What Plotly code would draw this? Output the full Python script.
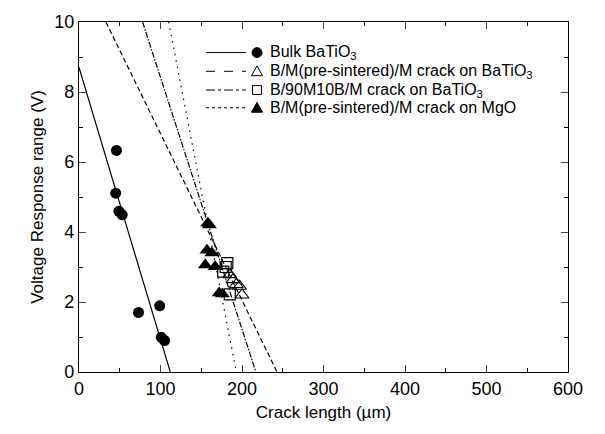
import plotly.graph_objects as go

# ---- data ----
bulk_x = [46, 45, 49, 53, 73, 99, 101, 105]
bulk_y = [6.33, 5.11, 4.59, 4.49, 1.70, 1.89, 0.99, 0.90]

bm_bt_x = [185, 189, 193, 197, 200]
bm_bt_y = [2.78, 2.64, 2.50, 2.45, 2.20]

b90_x = [177, 182, 180, 185]
b90_y = [2.87, 3.11, 3.00, 2.22]

bm_mgo_x = [158, 160, 157, 163, 155, 167, 172, 176]
bm_mgo_y = [4.25, 4.20, 3.48, 3.40, 3.06, 3.01, 2.26, 2.23]

# fitted lines (end points)
fit_bulk_x = [0, 112]
fit_bulk_y = [8.7, 0]
fit_bmbt_x = [33, 243]
fit_bmbt_y = [10, 0]
fit_b90_x = [78, 217]
fit_b90_y = [10, 0]
fit_mgo_x = [110, 193]
fit_mgo_y = [10, 0]

legend_labels = [
    "Bulk BaTiO<sub>3</sub>",
    "B/M(pre-sintered)/M crack on BaTiO<sub>3</sub>",
    "B/90M10B/M crack on BaTiO<sub>3</sub>",
    "B/M(pre-sintered)/M crack on MgO",
]

FONT = "Liberation Sans, Arial, sans-serif"
W, H = 605, 434
ML, MR, MT, MB = 79, 37, 17, 62
PW, PH = W - ML - MR, H - MT - MB

fig = go.Figure()
lw = 1.2
fig.add_trace(go.Scatter(x=fit_bulk_x, y=fit_bulk_y, mode="lines",
                         line=dict(color="black", width=lw), showlegend=False))
fig.add_trace(go.Scatter(x=fit_bmbt_x, y=fit_bmbt_y, mode="lines",
                         line=dict(color="black", width=lw, dash="5px,3px"), showlegend=False))
fig.add_trace(go.Scatter(x=fit_b90_x, y=fit_b90_y, mode="lines",
                         line=dict(color="black", width=lw, dash="6px,1.5px,1.5px,1.5px"), showlegend=False))
fig.add_trace(go.Scatter(x=fit_mgo_x, y=fit_mgo_y, mode="lines",
                         line=dict(color="black", width=lw, dash="1.5px,5px"), showlegend=False))

fig.add_trace(go.Scatter(x=bulk_x, y=bulk_y, mode="markers",
                         marker=dict(symbol="circle", size=11, color="black"), showlegend=False))
fig.add_trace(go.Scatter(x=bm_bt_x, y=bm_bt_y, mode="markers",
                         marker=dict(symbol="triangle-up-open", size=12, color="black",
                                     line=dict(width=1.2)), showlegend=False))
fig.add_trace(go.Scatter(x=b90_x, y=b90_y, mode="markers",
                         marker=dict(symbol="square-open", size=11, color="black",
                                     line=dict(width=1.2)), showlegend=False))
fig.add_trace(go.Scatter(x=bm_mgo_x, y=bm_mgo_y, mode="markers",
                         marker=dict(symbol="triangle-up", size=13, color="black"), showlegend=False))

# ---- manual legend (pixel -> paper) ----
def px(x):
    return (x - ML) / PW

def py(y):
    return 1 - (y - MT) / PH

rows = [48, 67, 86, 104]
dashes = [None, "dash", "dashdot", "dot"]
shapes = []
annos = []
line_x0, line_x1, mk_x, txt_x = 206, 246, 257, 268
for r, lab, d in zip(rows, legend_labels, dashes):
    ln = dict(color="black", width=1)
    if d:
        ln["dash"] = d
    shapes.append(dict(type="line", xref="paper", yref="paper",
                       x0=px(line_x0), x1=px(line_x1), y0=py(r), y1=py(r), line=ln))
    annos.append(dict(x=px(txt_x), y=py(r), xref="paper", yref="paper", text=lab,
                      showarrow=False, xanchor="left", yanchor="middle",
                      font=dict(family=FONT, size=16, color="black")))

# legend markers
s = 5
shapes.append(dict(type="circle", xref="paper", yref="paper",
                   x0=px(mk_x - s), x1=px(mk_x + s), y0=py(rows[0] + s), y1=py(rows[0] - s),
                   fillcolor="black", line=dict(color="black", width=1)))

def tri(cx, cy, filled):
    path = "M {} {} L {} {} L {} {} Z".format(px(cx - 5.5), py(cy + 4.5), px(cx + 5.5), py(cy + 4.5),
                                            px(cx), py(cy - 5.5))
    return dict(type="path", xref="paper", yref="paper", path=path,
                fillcolor="black" if filled else "white", line=dict(color="black", width=1))

shapes.append(tri(mk_x, rows[1], False))
shapes.append(dict(type="rect", xref="paper", yref="paper",
                   x0=px(mk_x - 4.5), x1=px(mk_x + 4.5), y0=py(rows[2] + 4.5), y1=py(rows[2] - 4.5),
                   fillcolor="white", line=dict(color="black", width=1)))
shapes.append(tri(mk_x, rows[3], True))

fig.update_layout(
    width=W, height=H,
    margin=dict(l=ML, r=MR, t=MT, b=MB),
    plot_bgcolor="white", paper_bgcolor="white",
    font=dict(family=FONT, color="black"),
    shapes=shapes, annotations=annos,
    showlegend=False,
)
fig.update_xaxes(range=[0, 600], dtick=100, ticks="inside", ticklen=7, tickwidth=1,
                 showline=True, linecolor="black", linewidth=1.2, mirror="ticks",
                 showgrid=False, zeroline=False,
                 minor=dict(dtick=50, ticks="inside", ticklen=4, tickcolor="black"),
                 tickfont=dict(size=18), title=dict(text="Crack length (µm)", font=dict(size=17), standoff=8))
fig.update_yaxes(range=[0, 10], dtick=2, ticks="inside", ticklen=7, tickwidth=1,
                 showline=True, linecolor="black", linewidth=1.2, mirror="ticks",
                 showgrid=False, zeroline=False,
                 minor=dict(dtick=1, ticks="inside", ticklen=4, tickcolor="black"),
                 tickfont=dict(size=18), title=dict(text="Voltage Response range (V)", font=dict(size=17), standoff=6))

fig.write_html("out.html")
